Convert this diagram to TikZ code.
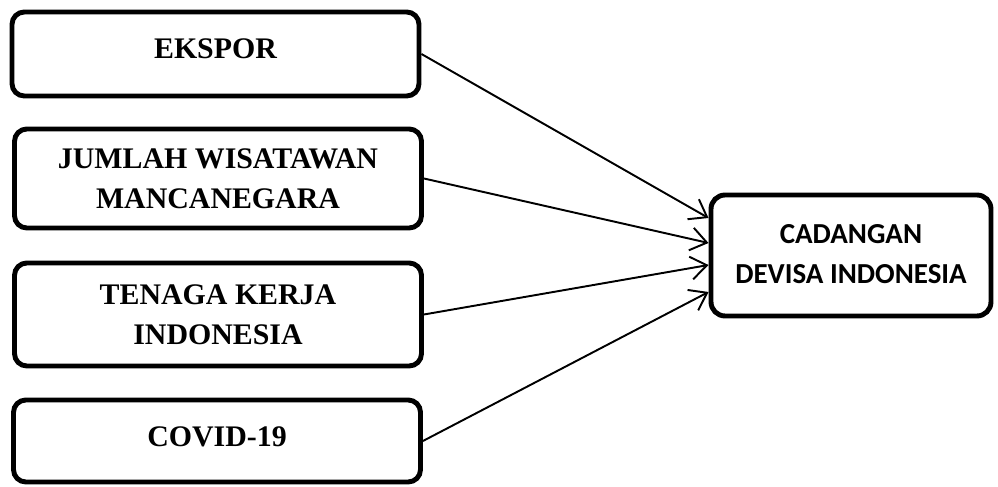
\documentclass[tikz,border=0pt]{standalone}
\usepackage{fontspec}
\setmainfont{Liberation Serif}
\newfontfamily\calibrifont{Carlito}
\usepackage{tikz}
\usetikzlibrary{arrows.meta,positioning}

\begin{document}
\begin{tikzpicture}[
    font=\fontsize{17}{22.8}\selectfont\bfseries,
    factor/.style={rectangle, draw, line width=2.8pt, rounded corners=7pt, fill=white, align=center, minimum width=8.14cm},
    target/.style={rectangle, draw, line width=2.8pt, rounded corners=8pt, fill=white, align=center, minimum width=5.6cm, minimum height=2.42cm, font=\fontsize{16.5}{22.8}\selectfont\bfseries\calibrifont},
    edge/.style={-{Straight Barb[length=3.2mm, width=4.6mm]}, line width=1.1pt}
]
\useasboundingbox (0,0) rectangle (19.96,-9.74);
\node[factor, minimum height=1.68cm] (ekspor) at (4.31,-1.08) {\raisebox{0.22cm}{EKSPOR}};
\node[factor, minimum height=1.98cm] (wisman) at (4.36,-3.57) {JUMLAH WISATAWAN\\MANCANEGARA};
\node[factor, minimum height=2.06cm] (tki) at (4.36,-6.29) {TENAGA KERJA\\INDONESIA};
\node[factor, minimum height=1.64cm] (covid) at (4.34,-8.82) {\raisebox{0.16cm}{COVID-19}};
\node[target] (devisa) at (17.02,-5.11) {\raisebox{0.07cm}{\begin{tabular}{@{}c@{}}CADANGAN\\DEVISA INDONESIA\end{tabular}}};
\coordinate (in1) at ([yshift=0.75cm]devisa.west);
\coordinate (in2) at ([yshift=0.25cm]devisa.west);
\coordinate (in3) at ([yshift=-0.19cm]devisa.west);
\coordinate (in4) at ([yshift=-0.73cm]devisa.west);
\draw[edge] (ekspor.east) -- (in1);
\draw[edge] (wisman.east) -- (in2);
\draw[edge] (tki.east) -- (in3);
\draw[edge] (covid.east) -- (in4);
\end{tikzpicture}
\end{document}
